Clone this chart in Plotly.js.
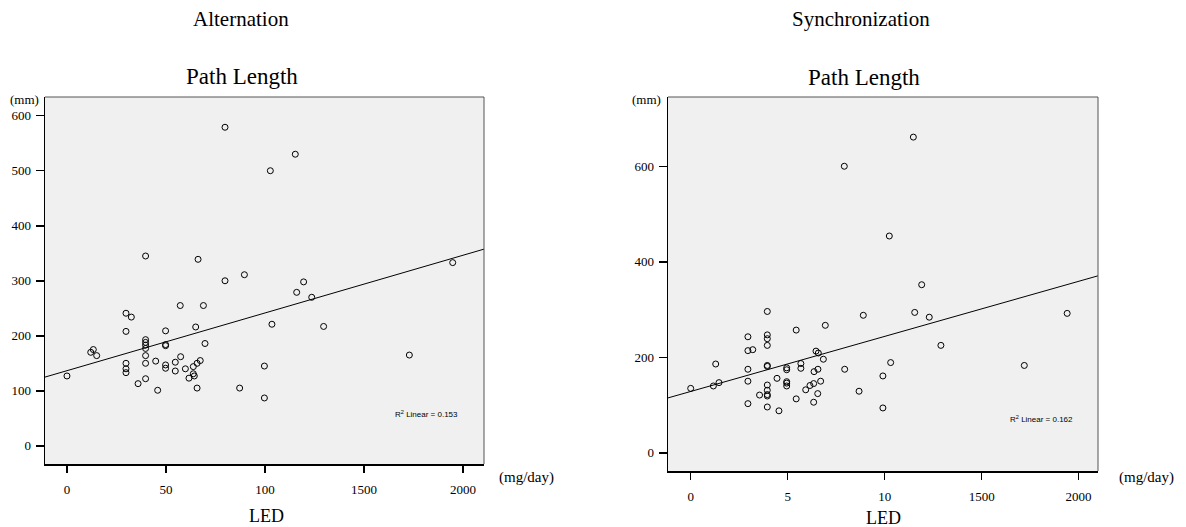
<!DOCTYPE html>
<html>
<head>
<meta charset="utf-8">
<script src="https://cdn.plot.ly/plotly-3.0.1.min.js"></script>
<style>html,body{margin:0;padding:0;background:#fff;}#chart{width:1186px;height:527px;}</style>
</head>
<body>
<div id="chart"></div>
<script>
// ---- Data ----
const altLED = [0,120,133,150,298,325,298,298,298,298,359,397,397,397,397,397,397,397,397,448,458,498,498,498,498,498,547,547,572,574,598,616,638,638,643,650,657,657,662,673,689,697,798,798,872,896,997,997,1027,1035,1153,1160,1195,1236,1296,1729,1948];
const altPath = [127,170,175,164,241,234,208,150,140,133,113,345,193,188,183,177,164,150,122,154,101,209,184,182,147,141,152,136,255,162,140,123,144,131,127,216,150,105,339,155,255,186,579,300,105,311,145,87,500,221,530,279,298,270,217,165,333];

const synLED = [0,117,129,146,295,295,320,295,295,295,355,395,395,395,395,395,395,395,395,395,395,395,445,455,495,495,495,495,495,544,544,568,568,593,615,634,636,634,646,658,656,655,670,684,694,792,794,868,890,991,991,1024,1031,1148,1155,1191,1230,1290,1720,1941];
const synPath = [135,140,186,147,243,214,216,175,150,103,121,296,247,239,225,183,181,142,131,122,119,96,156,88,178,174,149,146,140,257,113,187,177,132,141,145,170,106,213,209,175,124,150,196,267,600,175,129,288,161,94,454,189,661,294,352,284,225,183,292];

const altFit = {intercept: 136.6, slope: 0.1049, r2: 0.153};
const synFit = {intercept: 128.5, slope: 0.1153, r2: 0.162};

const xTickVals = [0, 500, 1000, 1500, 2000];
const altXTickText = ["0", "50", "100", "1500", "2000"];
const synXTickText = ["0", "5", "10", "1500", "2000"];
const altYTicks = [0, 100, 200, 300, 400, 500, 600];
const synYTicks = [0, 200, 400, 600];

const panelTitles = ["Alternation", "Synchronization"];
const chartTitle = "Path Length";
const xLabel = "LED";
const xUnit = "(mg/day)";
const yUnit = "(mm)";

// ---- Layout geometry ----
const W = 1186, H = 527;
const altXRange = [-111, 2106], altYRange = [-33, 634];
const synXRange = [-117, 2100], synYRange = [-38, 745];
const serif = "Liberation Serif, Times New Roman, serif";

function fitLine(fit, range) {
  return {x: [range[0], range[1]], y: [fit.intercept + fit.slope * range[0], fit.intercept + fit.slope * range[1]]};
}
const altLine = fitLine(altFit, altXRange);
const synLine = fitLine(synFit, synXRange);

const markerStyle = {symbol: 'circle-open', size: 6, color: '#000', line: {width: 1, color: '#000'}};

const traces = [
  {x: altLED, y: altPath, type: 'scatter', mode: 'markers', marker: markerStyle, xaxis: 'x', yaxis: 'y', hoverinfo: 'x+y'},
  {x: altLine.x, y: altLine.y, type: 'scatter', mode: 'lines', line: {color: '#000', width: 1}, xaxis: 'x', yaxis: 'y', hoverinfo: 'skip'},
  {x: synLED, y: synPath, type: 'scatter', mode: 'markers', marker: markerStyle, xaxis: 'x2', yaxis: 'y2', hoverinfo: 'x+y'},
  {x: synLine.x, y: synLine.y, type: 'scatter', mode: 'lines', line: {color: '#000', width: 1}, xaxis: 'x2', yaxis: 'y2', hoverinfo: 'skip'}
];

function xAxis(domain, range, ticktext, anchor) {
  return {
    domain: domain, range: range, anchor: anchor,
    tickmode: 'array', tickvals: xTickVals, ticktext: ticktext,
    ticks: 'outside', ticklen: 7, tickwidth: 1.5, tickcolor: '#000',
    ticklabelstandoff: 6,
    showgrid: false, zeroline: false,
    showline: true, linecolor: '#000', linewidth: 1.5,
    tickfont: {family: serif, size: 13, color: '#000'}
  };
}
function yAxis(domain, range, tickvals, anchor) {
  return {
    domain: domain, range: range, anchor: anchor,
    tickmode: 'array', tickvals: tickvals,
    ticks: 'outside', ticklen: 8, tickwidth: 1.5, tickcolor: '#000',
    ticklabelstandoff: 2,
    showgrid: false, zeroline: false,
    showline: true, linecolor: '#000', linewidth: 1.5,
    tickfont: {family: serif, size: 13, color: '#000'}
  };
}

const altDomX = [45 / W, 484 / W], altDomY = [1 - 464 / H, 1 - 97 / H];
const synDomX = [668 / W, 1098 / W], synDomY = [1 - 471 / H, 1 - 97 / H];

function txt(text, x, y, size, family, xanchor) {
  return {text: text, x: x / W, y: 1 - y / H, xref: 'paper', yref: 'paper', showarrow: false,
    xanchor: xanchor || 'center', yanchor: 'middle', font: {family: family || serif, size: size, color: '#000'}};
}

const annotations = [
  txt(panelTitles[0], 241, 19, 21),
  txt(chartTitle, 242, 76, 23),
  txt(yUnit, 8, 100, 13, serif, 'left'),
  txt(xUnit, 497, 477, 15, serif, 'left'),
  txt(xLabel, 266, 516, 18),
  txt(panelTitles[1], 861, 19, 21),
  txt(chartTitle, 864, 77, 23),
  txt(yUnit, 630, 100, 13, serif, 'left'),
  txt(xUnit, 1117, 477, 15, serif, 'left'),
  txt(xLabel, 883, 518, 18),
  {text: 'R<sup>2</sup> Linear = ' + altFit.r2.toFixed(3), x: 1818, y: 58, xref: 'x', yref: 'y', showarrow: false,
    font: {family: 'Liberation Sans, Arial, sans-serif', size: 8, color: '#000'}},
  {text: 'R<sup>2</sup> Linear = ' + synFit.r2.toFixed(3), x: 1811, y: 71, xref: 'x2', yref: 'y2', showarrow: false,
    font: {family: 'Liberation Sans, Arial, sans-serif', size: 8, color: '#000'}}
];

const shapes = [
  {type: 'line', xref: 'paper', yref: 'paper', x0: altDomX[0], x1: altDomX[1], y0: altDomY[1], y1: altDomY[1], line: {color: '#555', width: 1}},
  {type: 'line', xref: 'paper', yref: 'paper', x0: altDomX[1], x1: altDomX[1], y0: altDomY[0], y1: altDomY[1], line: {color: '#555', width: 1}},
  {type: 'line', xref: 'paper', yref: 'paper', x0: synDomX[0], x1: synDomX[1], y0: synDomY[1], y1: synDomY[1], line: {color: '#555', width: 1}},
  {type: 'line', xref: 'paper', yref: 'paper', x0: synDomX[1], x1: synDomX[1], y0: synDomY[0], y1: synDomY[1], line: {color: '#555', width: 1}}
];

const layout = {
  width: W, height: H, autosize: false,
  margin: {l: 0, r: 0, t: 0, b: 0},
  paper_bgcolor: '#fff', plot_bgcolor: '#f0f0f0',
  showlegend: false,
  xaxis: xAxis(altDomX, altXRange, altXTickText, 'y'),
  yaxis: yAxis(altDomY, altYRange, altYTicks, 'x'),
  xaxis2: xAxis(synDomX, synXRange, synXTickText, 'y2'),
  yaxis2: yAxis(synDomY, synYRange, synYTicks, 'x2'),
  annotations: annotations,
  shapes: shapes
};

Plotly.newPlot('chart', traces, layout, {displayModeBar: false, staticPlot: true});
</script>
</body>
</html>
